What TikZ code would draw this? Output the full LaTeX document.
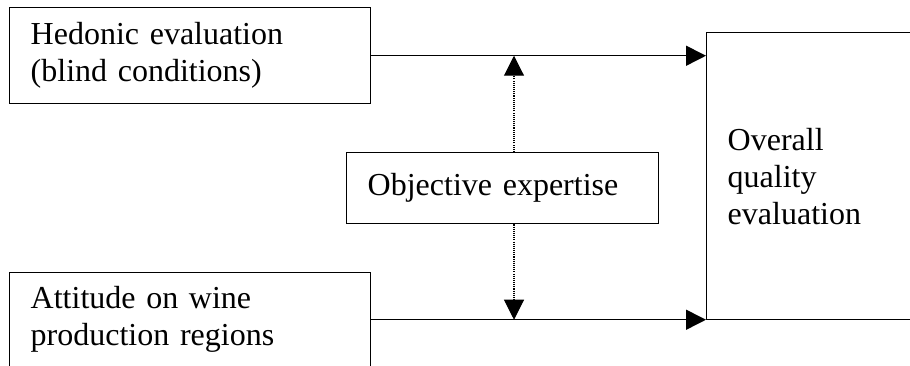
\documentclass[tikz,border=0pt]{standalone}
\usepackage{fontspec}
\setmainfont{Liberation Serif}
\usetikzlibrary{arrows.meta}

\begin{document}
\begin{tikzpicture}[
    x=0.75pt, y=-0.75pt,
    >={Triangle[length=15pt,width=15pt]},
    box/.style={draw,line width=1.1pt,anchor=north west,align=left,
        inner xsep=15.75pt,inner ysep=0pt,
        font=\fontsize{24}{27.75}\selectfont},
    link/.style={->,line width=1.1pt},
    dotlink/.style={->,line width=0.8pt,dash pattern=on 0.8pt off 0.8pt},
]
\useasboundingbox (0,0) rectangle (910,365);

% inputs
\node[box,text width=239.25pt,minimum height=72pt] (hedonic) at (9,7)
    {Hedonic evaluation\\(blind conditions)};
\node[box,text width=239.25pt,minimum height=70.5pt] (attitude) at (9,272)
    {Attitude on wine\\production regions};

% moderator
\node[box,text width=202.5pt,minimum height=53.25pt] (expertise) at (346,152)
    {Objective expertise};

% outcome
\node[box,text width=163.5pt,minimum height=215.25pt] (overall) at (706,32)
    {Overall\\quality\\evaluation};

% main paths
\draw[link] (hedonic.east) -- (hedonic.east -| overall.west);
\draw[link] (attitude.east) -- (attitude.east -| overall.west);

% dotted links
\coordinate (split) at (514,0);
\draw[dotlink] (split |- expertise.north) -- (split |- hedonic.east);
\draw[dotlink] (split |- expertise.south) -- (split |- attitude.east);
\end{tikzpicture}
\end{document}
